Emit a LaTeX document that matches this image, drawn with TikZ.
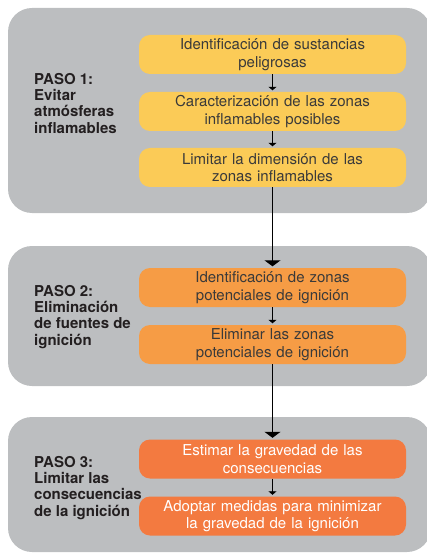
\documentclass[tikz,border=0pt]{standalone}
\usepackage{fontspec}
\setmainfont{TeX Gyre Heros}
\usetikzlibrary{arrows.meta}
\definecolor{panelgray}{HTML}{BCBEC0}
\definecolor{stepyellow}{HTML}{FBCB57}
\definecolor{steporange}{HTML}{F69C45}
\definecolor{stepred}{HTML}{F37A40}
\definecolor{boxtext}{HTML}{3A3A3A}
\definecolor{labeltext}{HTML}{231F20}
\tikzset{
  panel/.style={fill=panelgray, draw=none, rounded corners=24pt},
  stepbox/.style={draw=none, rounded corners=11pt, minimum width=267pt, minimum height=39pt,
    text width=260pt, align=center, inner sep=0pt, text=boxtext,
    font=\fontsize{15}{17.5}\selectfont},
  steplabel/.style={anchor=north west, inner sep=0pt, align=left, text=labeltext,
    font=\fontsize{15}{16.3}\selectfont\bfseries},
  smallarrow/.style={line width=1.1pt, -{Triangle[width=8pt,length=3.5pt]}, shorten >=1.5pt},
  bigarrow/.style={line width=1.1pt, -{Triangle[width=16pt,length=6pt]}, shorten >=1.5pt}
}
\begin{document}
\begin{tikzpicture}[x=1pt,y=-1pt]
\useasboundingbox (0,0) rectangle (426,553);
% panels
\fill[panel] (8,8) rectangle (431,213);
\fill[panel] (8,246) rectangle (431,386);
\fill[panel] (8,417) rectangle (431,552);
% labels
\node[steplabel] (l1) at (34,73) {PASO 1:\\Evitar\\atmósferas\\inflamables};
\node[steplabel] (l2) at (34,285) {PASO 2:\\Eliminación\\de fuentes de\\ignición};
\node[steplabel] (l3) at (34,456) {PASO 3:\\Limitar las\\consecuencias\\de la ignición};
% boxes
\node[stepbox, fill=stepyellow] (a1) at (272.5,54.5) {Identificación de sustancias\\peligrosas};
\node[stepbox, fill=stepyellow] (a2) at (272.5,111.5) {Caracterización de las zonas\\inflamables posibles};
\node[stepbox, fill=stepyellow] (a3) at (272.5,167.5) {Limitar la dimensión de las\\zonas inflamables};
\node[stepbox, fill=steporange] (b1) at (272.5,287.5) {Identificación de zonas\\potenciales de ignición};
\node[stepbox, fill=steporange] (b2) at (272.5,344.5) {Eliminar las zonas\\potenciales de ignición};
\node[stepbox, fill=stepred, text=white] (c1) at (272.5,459) {Estimar la gravedad de las\\consecuencias};
\node[stepbox, fill=stepred, text=white] (c2) at (272.5,516) {Adoptar medidas para minimizar\\la gravedad de la ignición};
% arrows
\draw[smallarrow] (a1.south) -- (a2.north);
\draw[smallarrow] (a2.south) -- (a3.north);
\draw[bigarrow] (a3.south) -- (b1.north);
\draw[smallarrow] (b1.south) -- (b2.north);
\draw[bigarrow] (b2.south) -- (c1.north);
\draw[smallarrow] (c1.south) -- (c2.north);
\end{tikzpicture}
\end{document}
